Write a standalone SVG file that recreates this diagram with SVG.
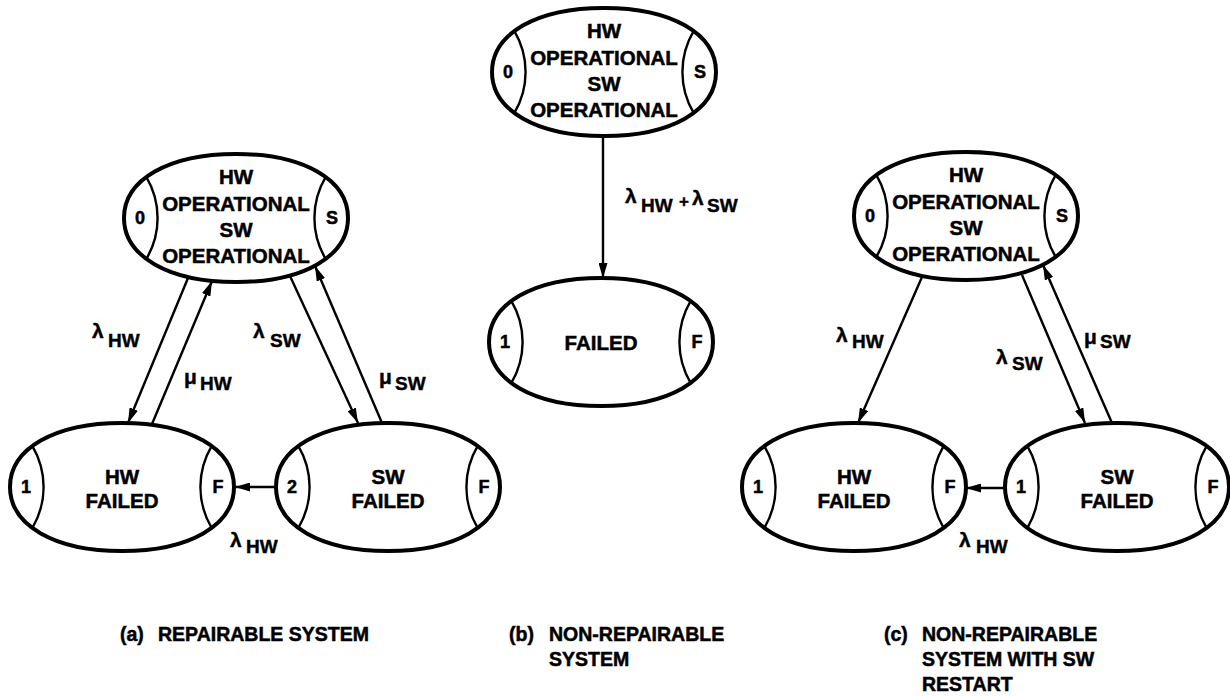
<svg xmlns="http://www.w3.org/2000/svg" xmlns:xlink="http://www.w3.org/1999/xlink" width="1230" height="696" viewBox="0 0 1230 696">
  <style>
    .outline { fill: #fff; stroke: #000; stroke-width: 4; }
    .lens { fill: none; stroke: #000; stroke-width: 2.4; }
    .lbl { font-family: "Liberation Sans", Arial, sans-serif; font-weight: bold; font-size: 20.5px; text-anchor: middle; fill: #000; stroke: #000; stroke-width: 0.5; }
    .tag { font-family: "Liberation Sans", Arial, sans-serif; font-weight: bold; font-size: 18px; text-anchor: middle; fill: #000; stroke: #000; stroke-width: 0.5; }
    .rate { font-family: "Liberation Sans", Arial, sans-serif; font-weight: bold; font-size: 21px; fill: #000; stroke: #000; stroke-width: 0.4; }
    .sub { font-size: 19px; }
    .cap { font-family: "Liberation Sans", Arial, sans-serif; font-weight: bold; font-size: 19.5px; fill: #000; stroke: #000; stroke-width: 0.5; }
    .edge { fill: none; stroke: #000; stroke-width: 2.4; marker-end: url(#head); }
  </style>
  <defs>
    <marker id="head" viewBox="0 0 15 9" refX="15" refY="4.5" markerWidth="15" markerHeight="9" markerUnits="userSpaceOnUse" orient="auto">
      <path d="M0,0 L15,4.5 L0,9 Z" fill="#000"/>
    </marker>
    <!-- state shell: rounded oval with a lens cap on each side -->
    <g id="shell">
      <path class="outline" d="M112 0 C112 38.4 67.2 64 0 64 C-67.2 64 -112 38.4 -112 0 C-112 -38.4 -67.2 -64 0 -64 C67.2 -64 112 -38.4 112 0 Z"/>
      <path class="lens" d="M-89.6 -40.8 A80 80 0 0 1 -89.6 40.8"/>
      <path class="lens" d="M89.6 -40.8 A80 80 0 0 0 89.6 40.8"/>
    </g>
  </defs>

  <!-- transitions -->
  <g id="connectors">
    <!-- (a) repairable -->
    <path class="edge" d="M188,278 L128,423"/>
    <path class="edge" d="M152,424 L212,281"/>
    <path class="edge" d="M290,276 L358,423"/>
    <path class="edge" d="M382,423 L315,266"/>
    <path class="edge" d="M276,487 L235,487"/>
    <!-- (b) non-repairable -->
    <path class="edge" d="M603,136 L603,278"/>
    <!-- (c) non-repairable with restart -->
    <path class="edge" d="M922,277 L858,423"/>
    <path class="edge" d="M1022,275 L1085,423"/>
    <path class="edge" d="M1112,423 L1043,265"/>
    <path class="edge" d="M1005,488 L966,488"/>
  </g>

  <!-- (a) states -->
  <g id="a-op" transform="translate(236,218)">
    <use xlink:href="#shell" href="#shell"/>
    <text class="lbl" y="-34">HW</text>
    <text class="lbl" y="-7">OPERATIONAL</text>
    <text class="lbl" y="19">SW</text>
    <text class="lbl" y="45">OPERATIONAL</text>
    <text class="tag" x="-96" y="6">0</text>
    <text class="tag" x="96" y="6">S</text>
  </g>
  <g id="a-hw" transform="translate(122,487)">
    <use xlink:href="#shell" href="#shell"/>
    <text class="lbl" y="-3">HW</text>
    <text class="lbl" y="21">FAILED</text>
    <text class="tag" x="-96" y="6">1</text>
    <text class="tag" x="96" y="6">F</text>
  </g>
  <g id="a-sw" transform="translate(388,487)">
    <use xlink:href="#shell" href="#shell"/>
    <text class="lbl" y="-3">SW</text>
    <text class="lbl" y="21">FAILED</text>
    <text class="tag" x="-96" y="6">2</text>
    <text class="tag" x="96" y="6">F</text>
  </g>

  <!-- (b) states -->
  <g id="b-op" transform="translate(604,72)">
    <use xlink:href="#shell" href="#shell"/>
    <text class="lbl" y="-34">HW</text>
    <text class="lbl" y="-7">OPERATIONAL</text>
    <text class="lbl" y="19">SW</text>
    <text class="lbl" y="45">OPERATIONAL</text>
    <text class="tag" x="-96" y="6">0</text>
    <text class="tag" x="96" y="6">S</text>
  </g>
  <g id="b-fail" transform="translate(601,342)">
    <use xlink:href="#shell" href="#shell"/>
    <text class="lbl" y="8">FAILED</text>
    <text class="tag" x="-96" y="6">1</text>
    <text class="tag" x="96" y="6">F</text>
  </g>

  <!-- (c) states -->
  <g id="c-op" transform="translate(966,216)">
    <use xlink:href="#shell" href="#shell"/>
    <text class="lbl" y="-34">HW</text>
    <text class="lbl" y="-7">OPERATIONAL</text>
    <text class="lbl" y="19">SW</text>
    <text class="lbl" y="45">OPERATIONAL</text>
    <text class="tag" x="-96" y="6">0</text>
    <text class="tag" x="96" y="6">S</text>
  </g>
  <g id="c-hw" transform="translate(854,487)">
    <use xlink:href="#shell" href="#shell"/>
    <text class="lbl" y="-3">HW</text>
    <text class="lbl" y="21">FAILED</text>
    <text class="tag" x="-96" y="6">1</text>
    <text class="tag" x="96" y="6">F</text>
  </g>
  <g id="c-sw" transform="translate(1117,487)">
    <use xlink:href="#shell" href="#shell"/>
    <text class="lbl" y="-3">SW</text>
    <text class="lbl" y="21">FAILED</text>
    <text class="tag" x="-96" y="6">1</text>
    <text class="tag" x="96" y="6">F</text>
  </g>

  <!-- rate labels -->
  <g id="rates">
    <text class="rate"><tspan x="92" y="338">λ</tspan><tspan class="sub" x="108" y="347">HW</tspan></text>
    <text class="rate"><tspan x="184" y="384">μ</tspan><tspan class="sub" x="200" y="390">HW</tspan></text>
    <text class="rate"><tspan x="253" y="338">λ</tspan><tspan class="sub" x="270" y="347">SW</tspan></text>
    <text class="rate"><tspan x="379" y="384">μ</tspan><tspan class="sub" x="395" y="390">SW</tspan></text>
    <text class="rate"><tspan x="230" y="547">λ</tspan><tspan class="sub" x="246" y="553">HW</tspan></text>

    <text class="rate"><tspan x="625" y="203">λ</tspan><tspan class="sub" x="641" y="212">HW</tspan><tspan x="679" y="207" font-size="17">+</tspan><tspan x="692" y="205">λ</tspan><tspan class="sub" x="707" y="212">SW</tspan></text>

    <text class="rate"><tspan x="836" y="342">λ</tspan><tspan class="sub" x="852" y="348">HW</tspan></text>
    <text class="rate"><tspan x="996" y="364">λ</tspan><tspan class="sub" x="1012" y="370">SW</tspan></text>
    <text class="rate"><tspan x="1084" y="344">μ</tspan><tspan class="sub" x="1100" y="348">SW</tspan></text>
    <text class="rate"><tspan x="959" y="547">λ</tspan><tspan class="sub" x="976" y="553">HW</tspan></text>
  </g>

  <!-- captions -->
  <g id="captions">
    <text class="cap"><tspan x="120" y="641">(a)</tspan><tspan x="158" y="641">REPAIRABLE SYSTEM</tspan></text>
    <text class="cap"><tspan x="509" y="641">(b)</tspan><tspan x="549" y="641">NON-REPAIRABLE</tspan><tspan x="549" y="666">SYSTEM</tspan></text>
    <text class="cap"><tspan x="884" y="641">(c)</tspan><tspan x="922" y="641">NON-REPAIRABLE</tspan><tspan x="922" y="666">SYSTEM WITH SW</tspan><tspan x="922" y="691">RESTART</tspan></text>
  </g>
</svg>
